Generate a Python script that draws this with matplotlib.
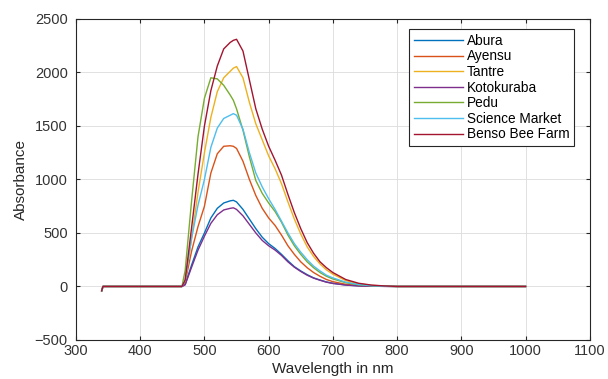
import matplotlib
matplotlib.use("Agg")
import matplotlib.pyplot as plt

plt.rcParams['font.family'] = ['Liberation Sans', 'DejaVu Sans']

# wavelength grid (nm) shared by all samples
wavelength = [340, 342, 465, 470, 480, 490, 500, 510, 520, 530, 540, 545, 550, 560,
              570, 580, 590, 600, 610, 620, 630, 640, 650, 660, 670, 680, 690,
              700, 720, 740, 760, 780, 800, 1000]

abura = [-40, 0, 0, 20, 200, 370, 500, 640, 730, 780, 800, 805, 790, 720,
         630, 540, 460, 400, 355, 300, 240, 185, 145, 110, 80, 60, 42,
         30, 14, 6, 2, 1, 0, 0]
ayensu = [-40, 0, 0, 40, 330, 560, 750, 1060, 1240, 1310, 1315, 1310, 1290, 1170,
          1000, 850, 730, 640, 570, 480, 380, 300, 230, 175, 130, 95, 65,
          45, 20, 8, 3, 1, 0, 0]
tantre = [-40, 0, 0, 50, 450, 880, 1250, 1580, 1820, 1950, 2010, 2040, 2055, 1950,
          1720, 1520, 1370, 1220, 1100, 960, 790, 630, 490, 370, 280, 210, 155,
          115, 55, 25, 10, 4, 0, 0]
kotokuraba = [-40, 0, 0, 15, 180, 340, 470, 590, 670, 715, 730, 735, 720, 660,
              580, 500, 430, 380, 340, 290, 230, 180, 140, 105, 78, 58, 40,
              28, 13, 5, 2, 1, 0, 0]
pedu = [-40, 0, 0, 150, 800, 1400, 1760, 1950, 1940, 1880, 1790, 1740, 1660, 1460,
        1210, 990, 870, 780, 700, 600, 480, 380, 300, 230, 175, 130, 95,
        70, 35, 15, 6, 2, 0, 0]
science_market = [-40, 0, 0, 60, 450, 760, 1000, 1300, 1480, 1570, 1600, 1615, 1600, 1470,
                  1250, 1060, 930, 820, 720, 610, 500, 400, 320, 250, 190, 145, 105,
                  80, 40, 18, 7, 2, 0, 0]
benso = [-40, 0, 0, 60, 550, 1050, 1500, 1830, 2060, 2220, 2280, 2300, 2310, 2200,
         1930, 1660, 1470, 1310, 1180, 1040, 860, 690, 540, 410, 310, 230, 175,
         130, 65, 30, 13, 5, 0, 0]

names = ["Abura", "Ayensu", "Tantre", "Kotokuraba", "Pedu", "Science Market", "Benso Bee Farm"]
series = [abura, ayensu, tantre, kotokuraba, pedu, science_market, benso]
colors = ["#0072BD", "#D95319", "#EDB120", "#7E2F8E", "#77AC30", "#4DBEEE", "#A2142F"]

fig = plt.figure(figsize=(6.08, 3.79), dpi=100)
ax = fig.add_axes([0.125, 0.103, 0.845, 0.847])

for name, vals, c in zip(names, series, colors):
    ax.plot(wavelength, vals, color=c, linewidth=1.0, label=name)

ax.set_xlim(300, 1100)
ax.set_ylim(-500, 2500)
ax.set_xticks(range(300, 1101, 100))
ax.set_yticks(range(-500, 2501, 500))
ax.grid(True, color="#dcdcdc", linewidth=0.6)
ax.set_axisbelow(True)
ax.tick_params(direction="in", top=True, right=True, length=3,
               labelsize=10.5, colors="#262626", labelcolor="#333333")
ax.tick_params(axis="y", pad=6)
ax.tick_params(axis="x", pad=3)
for s in ax.spines.values():
    s.set_color("#262626")
    s.set_linewidth(0.8)

ax.set_xlabel("Wavelength in nm", fontsize=11, color="#262626", labelpad=3)
ax.set_ylabel("Absorbance", fontsize=11, color="#262626", labelpad=5)

leg = ax.legend(loc="upper left", bbox_to_anchor=(0.648, 0.969), borderaxespad=0,
                fontsize=9.8, handlelength=3.6, handletextpad=0.3,
                labelspacing=0.12, fancybox=False, framealpha=1,
                edgecolor="#262626", borderpad=0.35)
leg.get_frame().set_linewidth(0.8)

fig.savefig("out.png", dpi=100)
